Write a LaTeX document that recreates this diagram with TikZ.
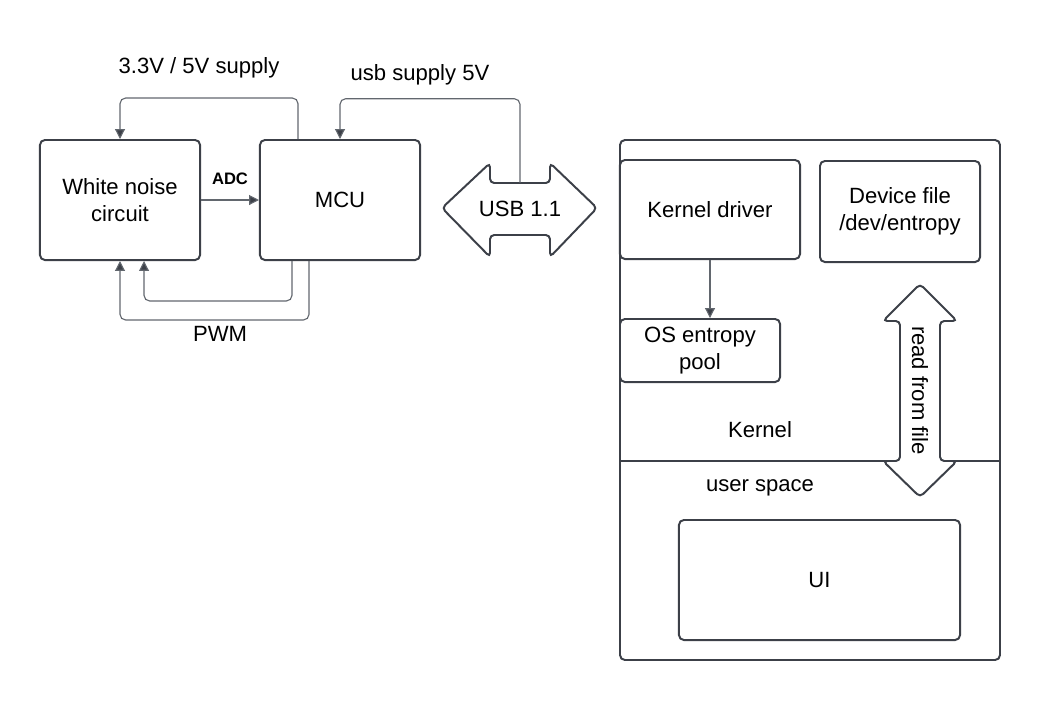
\documentclass[tikz,border=0pt]{standalone}
\usepackage{fontspec}
\setmainfont{Liberation Sans}
\usetikzlibrary{arrows.meta,positioning}
\definecolor{ink}{HTML}{3C4048}
\definecolor{wirecol}{HTML}{62676E}

\tikzset{
  block/.style={draw=ink, line width=1.4pt, rounded corners=3.5pt, align=center, inner sep=0pt,
    font=\fontsize{15.7}{19}\selectfont},
  wire/.style={draw=wirecol, line width=0.8pt, rounded corners=4pt,
    -{Triangle[length=7pt,width=7pt,fill=ink]}},
  lbl/.style={font=\fontsize{15.7}{19}\selectfont},
  fatarrow/.style={draw=ink, line width=1.4pt, rounded corners=3pt, fill=white}
}

\begin{document}
\begin{tikzpicture}[x=0.025cm, y=-0.025cm]
  \useasboundingbox (0,0) rectangle (1040,700);

  % hardware side
  \node[block, minimum width=4cm, minimum height=3cm] (wn) at (120,200) {White noise\\circuit};
  \node[block, minimum width=4cm, minimum height=3cm] (mcu) at (340,200) {MCU};

  % usb link
  \draw[fatarrow] (442,208) -- (490,163) -- (490,183) -- (550,183) -- (550,163) -- (597,208)
    -- (550,257) -- (550,235) -- (490,235) -- (490,257) -- cycle;
  \node[lbl, minimum width=1.5cm, minimum height=1.3cm, inner sep=0pt] (usb) at (520,209) {USB 1.1};

  % host side
  \draw[ink, line width=1.4pt, rounded corners=3.5pt] (620,140) rectangle (1000,660);
  \draw[ink, line width=1.4pt] (620,461) -- (1000,461);
  \node[block, minimum width=4.5cm, minimum height=2.475cm] (kdrv) at (710,209.5) {Kernel driver};
  \node[block, minimum width=4cm, minimum height=2.525cm] (devf) at (900,211.5) {Device file\\/dev/entropy};
  \node[block, minimum width=4cm, minimum height=1.575cm] (pool) at (700,350.5) {OS entropy\\pool};
  \node[block, minimum width=7.025cm, minimum height=3cm] (ui) at (819.5,580) {UI};
  \node[lbl] (kernel) at (760,430) {Kernel};
  \node[lbl] (user) at (760,488) {user space};

  % read from file
  \draw[fatarrow] (920,284) -- (957,321) -- (940,321) -- (940,461) -- (957,461) -- (920,497)
    -- (883,461) -- (900,461) -- (900,321) -- (883,321) -- cycle;
  \node[lbl, rotate=-90] (rff) at (920,390.5) {read from file};

  % connectors
  \draw[wire] (wn.east) -- (mcu.west) node[midway, above=7pt, font=\bfseries\fontsize{11.8}{14}\selectfont] (adc) {ADC};
  \draw[wire] ([xshift=0.975cm]mcu.north west) -- ++(0,-41) -| (wn.north);
  \draw[wire] (usb.north) -- ++(0,-84) -| (mcu.north);
  \draw[wire] ([xshift=0.825cm]mcu.south west) -- ++(0,40) -| ([xshift=2.625cm]wn.south west);
  \draw[wire] ([xshift=1.25cm]mcu.south west) -- ++(0,59) -| (wn.south);
  \draw[wire] (kdrv.south) -- (kdrv.south |- pool.north);

  \node[lbl] (supply) at (199,68) {3.3V / 5V supply};
  \node[lbl] (usbsup) at (420,75) {usb supply 5V};
  \node[lbl] (pwm) at (220,334) {PWM};
\end{tikzpicture}
\end{document}
